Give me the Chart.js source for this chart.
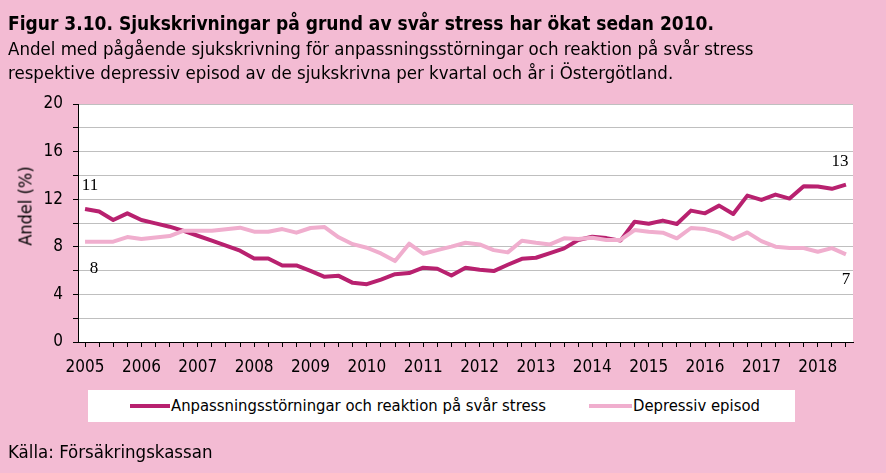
<!DOCTYPE html>
<html lang="sv">
<head>
<meta charset="utf-8">
<script src="https://cdn.jsdelivr.net/npm/chart.js@4/dist/chart.umd.min.js"></script>
<style>
  html, body { margin:0; padding:0; background:#F3BBD3; }
  #wrap { position:relative; width:886px; height:473px; background:#F3BBD3; overflow:hidden;
          font-family:"DejaVu Sans Condensed","DejaVu Sans",sans-serif; color:#000; }
  #chart { position:absolute; left:0; top:0; }
  .t { position:absolute; left:8px; white-space:nowrap; font-size:18.5px; }
  #t1 { top:12px; font-weight:bold; font-size:19px; }
  #t2 { top:38px; }
  #t3 { top:62px; }
  #ytitle { position:absolute; left:25px; top:206px; font-size:18px; white-space:nowrap;
            transform:translate(-50%,-50%) rotate(-90deg); }
  #legend { position:absolute; left:88px; top:390px; width:707px; height:32px; background:#fff; }
  .li { position:absolute; top:0; height:32px; line-height:32px; font-size:16.5px; white-space:nowrap; }
  .sw { display:inline-block; width:40px; height:4px; vertical-align:middle; margin-right:1px; position:relative; top:-1px; }
  #src { position:absolute; left:8px; top:441px; font-size:18.5px; }
</style>
</head>
<body>
<div id="wrap">
  <canvas id="chart" width="886" height="473"></canvas>
  <div class="t" id="t1">Figur 3.10. Sjukskrivningar på grund av svår stress har ökat sedan 2010.</div>
  <div class="t" id="t2">Andel med pågående sjukskrivning för anpassningsstörningar och reaktion på svår stress</div>
  <div class="t" id="t3">respektive depressiv episod av de sjukskrivna per kvartal och år i Östergötland.</div>
  <div id="ytitle">Andel (%)</div>
  <div id="legend">
    <div class="li" style="left:42px"><span class="sw" style="background:#B8216F"></span>Anpassningsstörningar och reaktion på svår stress</div>
    <div class="li" style="left:501px"><span class="sw" style="background:#F0AECE;width:43px"></span>Depressiv episod</div>
  </div>
  <div id="src">Källa: Försäkringskassan</div>
</div>
<script>
// ---- data ----
const years = ['2005','2006','2007','2008','2009','2010','2011','2012','2013','2014','2015','2016','2017','2018'];
const quarters = ['K1','K2','K3','K4'];
const categories = [];
years.forEach(y => quarters.forEach(q => categories.push(y + ' ' + q)));
categories.length = 55; // 2005 K1 – 2018 K3

const anpassning = [
  11.18, 10.96, 10.25, 10.81, 10.25, 9.97, 9.69, 9.33, 8.93, 8.51,
  8.09, 7.67, 7.02, 7.02, 6.43, 6.43, 5.98, 5.48, 5.56, 4.97,
  4.86, 5.25, 5.70, 5.79, 6.24, 6.15, 5.59, 6.24, 6.07, 5.96,
  6.49, 6.99, 7.08, 7.47, 7.87, 8.57, 8.85, 8.73, 8.52, 10.11,
  9.94, 10.20, 9.92, 11.04, 10.81, 11.46, 10.76, 12.30, 11.94, 12.39,
  12.05, 13.09, 13.06, 12.87, 13.23
];
const depressiv = [
  8.43, 8.43, 8.43, 8.82, 8.65, 8.79, 8.90, 9.35, 9.35, 9.35,
  9.47, 9.61, 9.27, 9.27, 9.49, 9.19, 9.58, 9.66, 8.80, 8.22,
  7.92, 7.44, 6.80, 8.26, 7.42, 7.72, 8.01, 8.34, 8.20, 7.72,
  7.53, 8.51, 8.34, 8.20, 8.71, 8.65, 8.76, 8.58, 8.58, 9.41,
  9.27, 9.19, 8.71, 9.58, 9.49, 9.19, 8.65, 9.21, 8.48, 8.01,
  7.89, 7.89, 7.58, 7.89, 7.36
];
const yTickLabels = [0, 4, 8, 12, 16, 20];

// ---- plugins ----
const plotBg = {
  id: 'plotBg',
  beforeDraw(chart) {
    const {ctx, chartArea: a} = chart;
    ctx.save(); ctx.fillStyle = '#fff';
    ctx.fillRect(a.left, a.top, a.right - a.left, a.bottom - a.top);
    ctx.restore();
  }
};
// labels of first/last values: [datasetIndex, pointIndex, dx, dy]
const endLabels = [[0, 0, 5, -23], [1, 0, 9, 27], [0, 54, -6, -23], [1, 54, 0, 25]];
const endLabelPlugin = {
  id: 'endLabels',
  afterDatasetsDraw(chart) {
    const {ctx} = chart;
    ctx.save();
    ctx.font = '17px "Liberation Serif", "DejaVu Serif", serif';
    ctx.fillStyle = '#000'; ctx.textAlign = 'center'; ctx.textBaseline = 'middle';
    endLabels.forEach(([ds, i, dx, dy]) => {
      const pt = chart.getDatasetMeta(ds).data[i];
      const v = chart.data.datasets[ds].data[i];
      ctx.fillText(String(Math.round(v)), pt.x + dx, pt.y + dy);
    });
    ctx.restore();
  }
};

const tickFont = { family: '"DejaVu Sans Condensed","DejaVu Sans",sans-serif', size: 17 };

new Chart(document.getElementById('chart'), {
  type: 'line',
  data: {
    labels: categories,
    datasets: [
      { label: 'Anpassningsstörningar och reaktion på svår stress', data: anpassning,
        borderColor: '#B8216F', backgroundColor: '#B8216F', borderWidth: 4, pointRadius: 0,
        tension: 0, borderJoinStyle: 'round', order: 1 },
      { label: 'Depressiv episod', data: depressiv,
        borderColor: '#F0AECE', backgroundColor: '#F0AECE', borderWidth: 4, pointRadius: 0,
        tension: 0, borderJoinStyle: 'round', order: 0 }
    ]
  },
  options: {
    responsive: false,
    animation: false,
    events: [],
    layout: { padding: { left: 0, top: 104, right: 33, bottom: 101 } },
    plugins: { legend: { display: false }, tooltip: { enabled: false } },
    scales: {
      x: {
        type: 'category', offset: true,
        afterFit(s) { s.height = 30; },
        grid: { display: true, offset: false, drawOnChartArea: false, drawTicks: true, tickLength: 5, color: '#000' },
        border: { display: true, color: '#000', width: 1 },
        ticks: {
          autoSkip: false, maxRotation: 0, minRotation: 0, padding: 10, color: '#000', font: tickFont,
          callback(v, i) { return i % 4 === 0 ? years[i / 4] : ''; }
        }
      },
      y: {
        min: 0, max: 20,
        afterFit(s) { s.width = 78; },
        grid: { color: '#BFBFBF', tickColor: '#000', tickLength: 5, drawTicks: true },
        border: { display: true, color: '#000', width: 1 },
        ticks: {
          stepSize: 2, padding: 10, color: '#000', font: tickFont,
          callback(v) { return yTickLabels.includes(v) ? String(v) : ''; }
        }
      }
    }
  },
  plugins: [plotBg, endLabelPlugin]
});
</script>
</body>
</html>
